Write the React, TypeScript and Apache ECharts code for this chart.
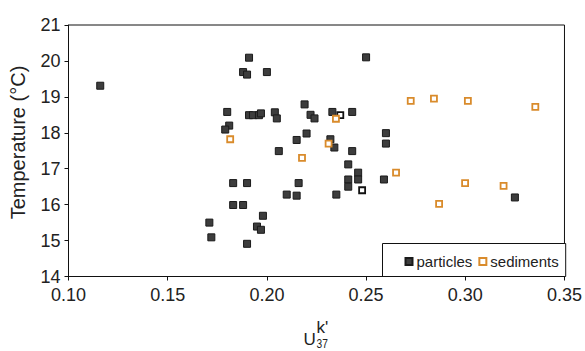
import React, { useEffect, useRef } from "react";
import * as echarts from "echarts";

const xTicks = [0.1, 0.15, 0.2, 0.25, 0.3, 0.35];
const yTicks = [14, 15, 16, 17, 18, 19, 20, 21];

const particlesX = [
  0.116, 0.191, 0.188, 0.190, 0.200, 0.180, 0.191, 0.193, 0.196, 0.197,
  0.204, 0.205, 0.219, 0.222, 0.224, 0.181, 0.179, 0.220, 0.215, 0.206,
  0.233, 0.243, 0.232, 0.234, 0.243, 0.241, 0.246, 0.246, 0.241, 0.241,
  0.183, 0.190, 0.216, 0.210, 0.215, 0.235, 0.183, 0.188, 0.198, 0.171,
  0.195, 0.197, 0.172, 0.190, 0.260, 0.260, 0.259, 0.325, 0.250,
];
const particlesY = [
  19.31, 20.09, 19.69, 19.62, 19.69, 18.58, 18.49, 18.49, 18.49, 18.54,
  18.57, 18.40, 18.79, 18.50, 18.40, 18.20, 18.09, 17.98, 17.80, 17.49,
  18.58, 18.58, 17.82, 17.59, 17.49, 17.12, 16.89, 16.70, 16.70, 16.50,
  16.60, 16.60, 16.60, 16.28, 16.25, 16.28, 15.99, 15.99, 15.69, 15.50,
  15.39, 15.30, 15.09, 14.91, 17.99, 17.70, 16.70, 16.20, 20.10,
];

const openX = [0.237, 0.248];
const openY = [18.49, 16.40];

const sedimentsX = [
  0.1815, 0.2177, 0.2348, 0.2311, 0.2725, 0.2842, 0.3013, 0.3353, 0.2651,
  0.2999, 0.3193, 0.2868,
];
const sedimentsY = [
  17.82, 17.30, 18.39, 17.70, 18.89, 18.95, 18.89, 18.72, 16.89, 16.60,
  16.52, 16.02,
];

const FONT = "'Liberation Sans', Arial, sans-serif";
const ORANGE = "#d98b2b";

export default function App() {
  const ref = useRef<HTMLDivElement>(null);
  useEffect(() => {
    if (!ref.current) return;
    const chart = echarts.init(ref.current, undefined, { renderer: "svg" });
    const zip = (xs: number[], ys: number[]) => xs.map((x, i) => [x, ys[i]]);
    const L = 68.5, R = 565.7, T = 25, B = 276.5;
    chart.setOption({
      animation: false,
      backgroundColor: "#fff",
      grid: {
        left: L, right: 585 - R, top: T, bottom: 351 - B,
        show: true, borderColor: "#111", borderWidth: 1, backgroundColor: "transparent",
      },
      xAxis: {
        type: "value", min: xTicks[0], max: xTicks[xTicks.length - 1], interval: 0.05,
        axisLine: { show: true, onZero: false, lineStyle: { color: "#111", width: 1 } },
        axisTick: { show: true, inside: false, length: 4, lineStyle: { color: "#111" } },
        splitLine: { show: false },
        axisLabel: {
          margin: 9, color: "#222", fontSize: 18, fontFamily: FONT,
          formatter: (v: number) => v.toFixed(2),
        },
      },
      yAxis: {
        type: "value", min: yTicks[0], max: yTicks[yTicks.length - 1], interval: 1,
        axisLine: { show: true, onZero: false, lineStyle: { color: "#111", width: 1 } },
        axisTick: { show: true, inside: false, length: 4, lineStyle: { color: "#111" } },
        splitLine: { show: false },
        axisLabel: { margin: 8, color: "#222", fontSize: 18, fontFamily: FONT },
      },
      legend: {
        show: true, left: 404.5, top: 254, padding: 0, itemGap: 6,
        itemWidth: 7, itemHeight: 7, icon: "rect",
        data: ["particles", "sediments"],
        textStyle: { fontSize: 15, fontFamily: FONT, color: "#222", padding: [0, 0, 0, -1] },
      },
      graphic: [
        {
          type: "rect", z: 0,
          shape: { x: 382.5, y: 243.5, width: R - 382.5, height: B - 243.5 },
          style: { fill: "#fff", stroke: "#111", lineWidth: 1 },
        },
        {
          type: "text", x: 17.5, y: 142.5, rotation: Math.PI / 2,
          style: {
            text: "Temperature (°C)", font: `20px ${FONT}`, fill: "#222",
            textAlign: "center", textVerticalAlign: "middle",
          },
        },
        {
          type: "text", x: 303.5, y: 339,
          style: { text: "U", font: `17px ${FONT}`, fill: "#222", textVerticalAlign: "middle" },
        },
        {
          type: "text", x: 316.5, y: 327.5,
          style: { text: "k'", font: `17px ${FONT}`, fill: "#222", textVerticalAlign: "middle" },
        },
        {
          type: "text", x: 316.5, y: 343.5, scaleX: 0.85,
          style: { text: "37", font: `12px ${FONT}`, fill: "#222", textVerticalAlign: "middle" },
        },
      ],
      series: [
        {
          name: "particles", type: "scatter", symbol: "rect", symbolSize: 7, z: 3,
          data: zip(particlesX, particlesY),
          itemStyle: { color: "#3d3d3d", borderColor: "#1a1a1a", borderWidth: 1, opacity: 1 },
        },
        {
          name: "open", type: "scatter", symbol: "rect", symbolSize: 6, z: 3,
          data: zip(openX, openY),
          itemStyle: { color: "#fff", borderColor: "#111", borderWidth: 1.8, opacity: 1 },
        },
        {
          name: "sediments", type: "scatter", symbol: "rect", symbolSize: 6, z: 4,
          data: zip(sedimentsX, sedimentsY),
          itemStyle: { color: "#fff", borderColor: ORANGE, borderWidth: 1.8, opacity: 1 },
        },
      ],
    });
    return () => chart.dispose();
  }, []);
  return (
    <div
      ref={ref}
      style={{ position: "fixed", left: 0, top: 0, width: 585, height: 351 }}
    />
  );
}
